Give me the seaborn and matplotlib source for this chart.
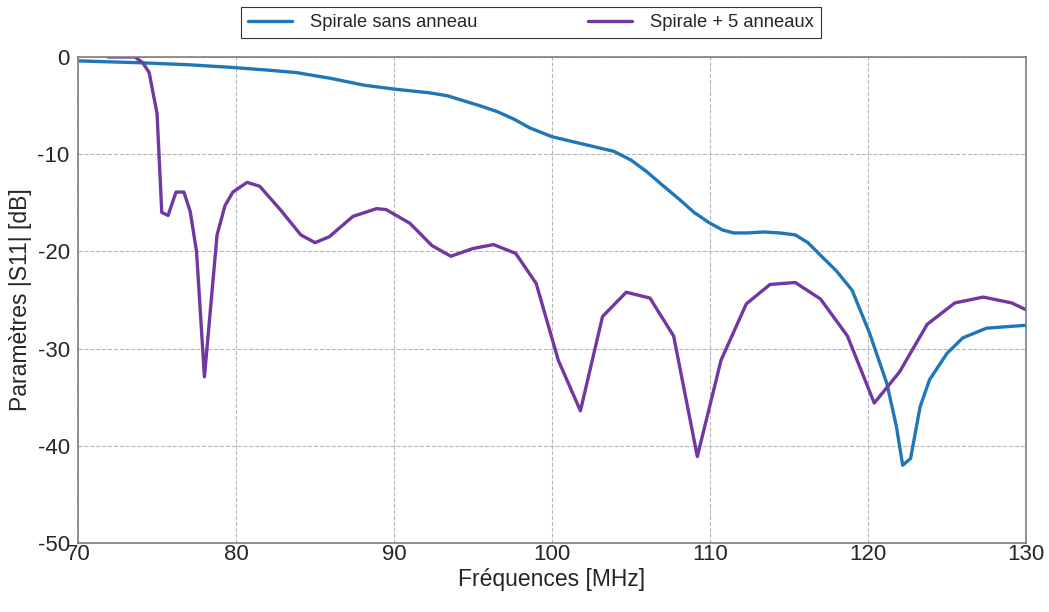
import matplotlib
matplotlib.use("Agg")
import matplotlib.pyplot as plt
import pandas as pd
import seaborn as sns

# Spirale sans anneau (courbe lisse)
freq_sans = [70, 74, 77, 79.6, 82, 83.8, 86, 88.1, 90, 92.3, 93.4, 94.4, 95.4, 96.5, 97.6,
             98.6, 100, 101.8, 103.9, 105, 106, 107, 108.1, 109, 110, 110.8, 111.5,
             112.4, 113.4, 114.4, 115.4, 116.2, 117, 118, 119, 120.1, 121.2, 121.8,
             122.2, 122.7, 123.3, 123.9, 125, 126, 127.5, 130]
s11_sans = [-0.4, -0.6, -0.8, -1.06, -1.35, -1.6, -2.2, -2.9, -3.3, -3.7, -4.0, -4.5, -5.0,
            -5.6, -6.4, -7.3, -8.2, -8.9, -9.7, -10.6, -11.8, -13.2, -14.7, -16.0, -17.1,
            -17.8, -18.1, -18.1, -18.0, -18.1, -18.3, -19.1, -20.4, -22.0, -24.0, -28.4,
            -33.6, -38.0, -42.0, -41.3, -36.0, -33.2, -30.5, -28.9, -27.9, -27.6]

# Spirale + 5 anneaux
freq_ann = [71.9, 73.6, 74.1, 74.5, 75.0, 75.3, 75.7, 76.2, 76.7, 77.1, 77.5, 78.0, 78.8,
            79.3, 79.8, 80.7, 81.5, 82.8, 84.1, 85.0, 85.9, 87.4, 88.9, 89.5, 91.0, 92.4,
            93.6, 95.0, 96.3, 97.7, 99.0, 100.4, 101.8, 103.2, 104.7, 106.2, 107.7, 109.2,
            110.7, 112.3, 113.8, 115.4, 117.0, 118.7, 120.4, 122.0, 123.75, 125.5, 127.3,
            129.1, 130]
s11_ann = [0, 0, -0.6, -1.6, -5.8, -16.0, -16.3, -13.9, -13.9, -15.9, -20.0, -32.9, -18.3,
           -15.3, -13.9, -12.9, -13.3, -15.7, -18.3, -19.1, -18.5, -16.4, -15.6, -15.7, -17.1,
           -19.4, -20.5, -19.7, -19.3, -20.2, -23.3, -31.2, -36.4, -26.7, -24.2, -24.8, -28.7,
           -41.1, -31.2, -25.4, -23.4, -23.2, -24.9, -28.7, -35.6, -32.4, -27.5, -25.3, -24.7,
           -25.3, -26.0]

df = pd.concat([
    pd.DataFrame({'freq': freq_sans, 's11': s11_sans, 'serie': 'Spirale sans anneau'}),
    pd.DataFrame({'freq': freq_ann, 's11': s11_ann, 'serie': 'Spirale + 5 anneaux'}),
])

sns.set_style('white')
plt.rcParams['font.family'] = ['Liberation Sans', 'DejaVu Sans']
plt.rcParams['axes.unicode_minus'] = False

fig = plt.figure(figsize=(10.49, 6.12), dpi=100)
ax = fig.add_axes([0.0744, 0.1127, 0.9036, 0.7942])

colors = {'Spirale sans anneau': '#1f77b8', 'Spirale + 5 anneaux': '#7038a0'}
sns.lineplot(data=df, x='freq', y='s11', hue='serie', sort=False, ax=ax,
             palette=colors, linewidth=2.4, legend=False)

ax.set_xlim(70, 130)
ax.set_ylim(-50, 0)
ax.set_xticks(range(70, 131, 10))
ax.set_yticks(range(-50, 1, 10))
ax.grid(True, color='#b8b8b8', linestyle='--', linewidth=0.8)
for sp in ax.spines.values():
    sp.set_color('#7f7f7f')
    sp.set_linewidth(1.2)
ax.tick_params(axis='y', length=0, labelsize=16, pad=6)
ax.tick_params(axis='x', length=0, labelsize=16, pad=1)
ax.set_xlabel('Fréquences [MHz]', fontsize=16.5, labelpad=2)
ax.set_ylabel('Paramètres |S11| [dB]', fontsize=16.5, labelpad=4)

handles = [plt.Line2D([], [], color=c, lw=2.4) for c in colors.values()]
leg = fig.legend(handles, list(colors.keys()), ncol=2,
                 loc='center', bbox_to_anchor=(0.506, 0.963), fontsize=13.2,
                 frameon=True, fancybox=False, edgecolor='black', columnspacing=6,
                 handlelength=2.4, handletextpad=1.0, borderpad=0.4, borderaxespad=0)
leg.get_frame().set_linewidth(0.8)

fig.savefig('out.png', dpi=100)
